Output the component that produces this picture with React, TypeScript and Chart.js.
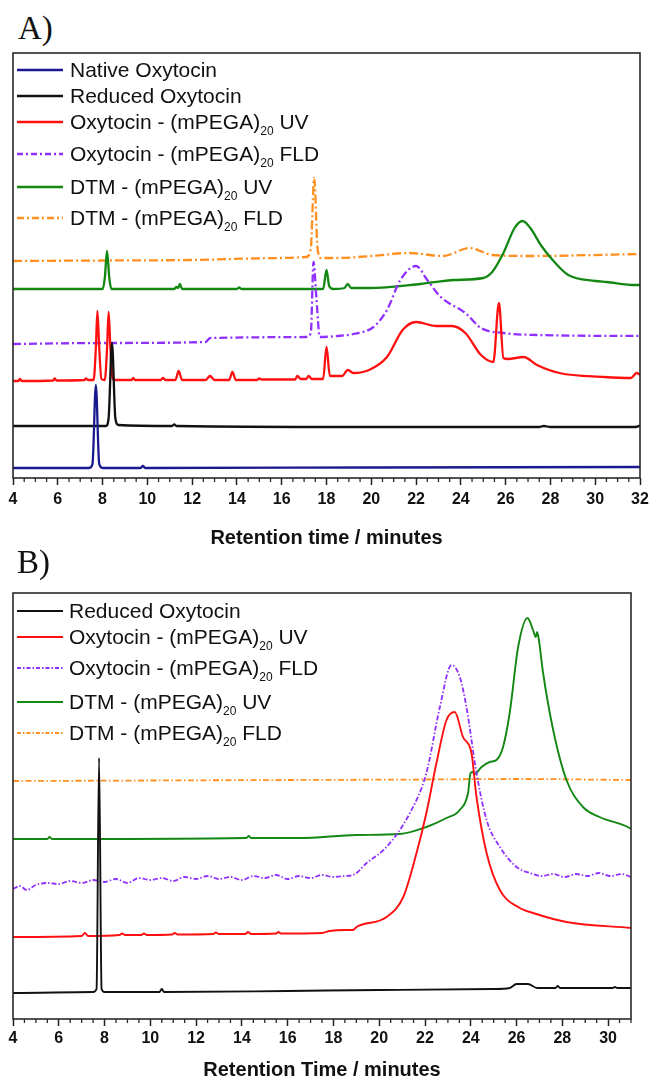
import React, { useEffect, useRef } from 'react';
import { Chart, registerables } from 'chart.js';

Chart.register(...registerables);

type Pt = [number, number];

// ---------- Panel A data: [retention time (min), signal (a.u.)] ----------
const aNative: Pt[] = [
  [4, 10], [7.4, 10], [7.55, 14], [7.7, 93], [7.85, 14], [8.0, 10], [9.7, 10], [9.8, 12], [9.9, 10],
  [20, 10.5], [32, 11],
];
const aReduced: Pt[] = [
  [4, 52], [8.15, 52], [8.27, 60], [8.42, 135], [8.57, 60], [8.7, 53], [11.1, 52], [11.2, 53.5], [11.3, 52],
  [20, 51], [27.5, 51], [27.7, 52], [28, 51], [31.8, 51], [32, 52.5],
];
const aOxyUV: Pt[] = [
  [4, 97], [4.25, 97], [4.3, 99], [4.4, 97], [5.8, 97.5], [5.85, 99.5], [5.95, 97.5], [7.2, 98], [7.25, 99.5], [7.35, 98],
  [7.6, 98], [7.7, 130], [7.77, 167], [7.85, 130], [7.95, 99], [8.1, 98], [8.2, 130], [8.27, 166], [8.35, 130], [8.45, 99],
  [8.6, 98], [9.3, 98], [9.37, 100], [9.45, 98], [10.6, 98], [10.7, 100], [10.8, 98],
  [11.25, 98], [11.4, 107], [11.55, 98], [12.6, 98], [12.8, 102], [13.0, 98], [13.65, 98], [13.8, 106], [13.95, 98],
  [14.9, 98], [15.0, 99.5], [15.1, 98.5], [16.6, 98.5], [16.7, 102], [16.85, 99], [17.1, 99], [17.2, 102], [17.35, 99],
  [17.85, 99], [18.0, 131], [18.15, 102], [18.7, 102], [18.95, 108], [19.2, 105], [19.9, 108], [20.7, 121], [21.4, 148],
  [22.0, 156], [22.9, 152], [23.6, 152], [24.2, 145], [24.9, 123], [25.45, 116], [25.7, 175], [25.9, 120], [26.1, 119],
  [26.8, 121], [27.4, 113], [28.4, 105], [30.4, 101], [31.6, 100], [31.85, 105], [32, 103],
];
const aOxyFLD: Pt[] = [
  [4, 134], [8, 135], [12.6, 136], [12.8, 140], [17.1, 141], [17.3, 145], [17.42, 216], [17.55, 180], [17.7, 141],
  [18.5, 142], [19.2, 144], [20.1, 151], [20.7, 168], [21.3, 198], [22.0, 212], [22.5, 198], [23.1, 181], [24.2, 165],
  [24.9, 150], [25.9, 145], [27.4, 143], [32, 142],
];
const aDtmUV: Pt[] = [
  [4, 189], [8.0, 189], [8.1, 200], [8.2, 227], [8.3, 200], [8.4, 189], [11.2, 189], [11.3, 191], [11.38, 190],
  [11.45, 194], [11.55, 189], [14.0, 189], [14.1, 190.5], [14.2, 189], [17.85, 189], [18.0, 208], [18.12, 192],
  [18.3, 189], [18.8, 190], [18.95, 194], [19.1, 190], [19.9, 190], [22.2, 194], [23.7, 198], [25.0, 200], [25.4, 206],
  [25.9, 225], [26.4, 250], [26.75, 257], [27.1, 250], [27.6, 232], [28.1, 218], [28.8, 203], [30.0, 197], [30.5, 196],
  [31.8, 193], [32, 193],
];
const aDtmFLD: Pt[] = [
  [4, 217], [8, 217.5], [12, 218], [16, 220], [17.1, 221], [17.3, 230], [17.45, 300], [17.6, 230], [17.75, 220],
  [18.5, 220], [20, 222], [21.7, 225], [23.2, 222], [24.4, 230], [25.4, 223], [27, 222], [32, 224],
];

// ---------- Panel B data ----------
const bReduced: Pt[] = [
  [4, 26], [7.5, 27], [7.65, 30], [7.76, 261], [7.87, 30], [8.0, 27], [10.4, 27], [10.5, 30], [10.6, 27], [16, 28],
  [20, 29], [25, 30], [25.7, 31], [26.0, 35], [26.5, 35], [26.9, 31], [27.7, 31], [27.8, 33], [27.9, 31], [30.2, 31],
  [30.3, 32], [30.4, 31], [31, 31],
];
const bOxyUV: Pt[] = [
  [4, 82], [7.0, 83], [7.14, 86], [7.28, 83], [8.65, 84], [8.77, 85.5], [8.9, 84], [9.6, 84], [9.72, 85.5], [9.85, 84],
  [10.95, 84.5], [11.07, 86], [11.2, 84.5], [12.75, 85], [12.86, 86.5], [13, 85], [14.15, 85], [14.27, 87], [14.4, 85],
  [15.5, 85.5], [15.6, 87], [15.7, 85.5], [17.5, 86], [17.84, 88], [18.5, 89], [18.86, 89], [19.01, 92], [20.32, 102],
  [21.05, 122], [21.63, 166], [22.06, 206], [22.5, 256], [22.94, 299], [23.3, 307], [23.66, 282], [24.03, 266],
  [24.25, 222], [24.69, 166], [25.27, 129], [26.14, 111], [26.72, 106], [28.18, 97], [31, 91],
];
const bOxyFLD: Pt[] = [
  [4, 130], [4.3, 133], [4.6, 129], [5.0, 134], [5.5, 136], [6.0, 135], [6.5, 138], [7.0, 136], [7.5, 139], [8.0, 137],
  [8.5, 140], [9.0, 136], [9.5, 141], [10.0, 139], [10.5, 141], [11.0, 138], [11.5, 142], [12.0, 140], [12.5, 143],
  [13.0, 140], [13.5, 142], [14.0, 139], [14.5, 143], [15.0, 141], [15.5, 144], [16.0, 140], [16.5, 143], [17.0, 141],
  [17.5, 144], [18.0, 142], [18.5, 143], [18.86, 144], [19.45, 156], [20.32, 172], [21.34, 206], [22.06, 246],
  [22.65, 312], [23.16, 354], [23.52, 342], [23.81, 312], [24.25, 246], [24.69, 199], [25.27, 172], [26.0, 152],
  [26.58, 146], [27.1, 143], [27.6, 145], [28.1, 142], [28.6, 145], [29.1, 143], [29.6, 146], [30.1, 143], [30.6, 145],
  [31, 142],
];
const bDtmUV: Pt[] = [
  [4, 180], [5.5, 180], [5.6, 182], [5.7, 180], [14.2, 181], [14.3, 183], [14.4, 181], [16.5, 181], [19.01, 184],
  [20.9, 185], [22.06, 192], [22.94, 201], [23.52, 209], [23.88, 226], [23.99, 246], [24.1, 247], [24.17, 245],
  [24.47, 252], [24.83, 257], [25.12, 259], [25.41, 272], [25.7, 306], [26.07, 372], [26.48, 401], [26.72, 389],
  [26.84, 382], [26.9, 387], [26.97, 380], [27.16, 346], [27.6, 289], [28.18, 239], [28.9, 212], [29.63, 202],
  [30.94, 191], [31, 190],
];
const bDtmFLD: Pt[] = [
  [4, 238], [10, 238.5], [16, 239], [22, 239.5], [26, 240], [31, 239],
];

// ---------- axes ----------
const aRange: Pt = [4, 32];
const bRange: Pt = [4, 31];
const majorStep = 2;
const minorStep = 0.5;
const aTitle = 'Retention time / minutes';
const bTitle = 'Retention Time / minutes';

// ---------- legend labels ----------
const lblNative = ['Native Oxytocin', '', ''];
const lblReduced = ['Reduced Oxytocin', '', ''];
const lblOxyUV = ['Oxytocin - (mPEGA)', '20', ' UV'];
const lblOxyFLD = ['Oxytocin - (mPEGA)', '20', ' FLD'];
const lblDtmUV = ['DTM - (mPEGA)', '20', ' UV'];
const lblDtmFLD = ['DTM - (mPEGA)', '20', ' FLD'];

const SANS = "'Liberation Sans', Arial, Helvetica, sans-serif";
const SERIF = "'Liberation Serif', 'Times New Roman', serif";

const C = {
  blue: '#1a1a8f',
  black: '#111111',
  red: '#ff1010',
  purple: '#9030ff',
  green: '#128712',
  orange: '#ff9020',
};

type Series = { label: string[]; data: Pt[]; color: string; width: number; dash?: number[]; lgDash?: number[] };

const seriesA: Series[] = [
  { label: lblNative, data: aNative, color: C.blue, width: 2.3 },
  { label: lblReduced, data: aReduced, color: C.black, width: 2.3 },
  { label: lblOxyUV, data: aOxyUV, color: C.red, width: 2.3 },
  { label: lblOxyFLD, data: aOxyFLD, color: C.purple, width: 2.3, dash: [8, 3, 2, 3], lgDash: [6, 3, 2, 3] },
  { label: lblDtmUV, data: aDtmUV, color: C.green, width: 2.3 },
  { label: lblDtmFLD, data: aDtmFLD, color: C.orange, width: 2.3, dash: [9, 3, 2, 3], lgDash: [7, 3, 2, 3] },
];
const seriesB: Series[] = [
  { label: lblReduced, data: bReduced, color: C.black, width: 1.9 },
  { label: lblOxyUV, data: bOxyUV, color: C.red, width: 1.9 },
  { label: lblOxyFLD, data: bOxyFLD, color: C.purple, width: 1.8, dash: [5, 2, 1.5, 2], lgDash: [4, 2, 1.5, 2] },
  { label: lblDtmUV, data: bDtmUV, color: C.green, width: 1.9 },
  { label: lblDtmFLD, data: bDtmFLD, color: C.orange, width: 1.8, dash: [6, 2.5, 1.5, 2.5], lgDash: [4, 2, 1.5, 2] },
];

const framePlugin = {
  id: 'frame',
  afterDatasetsDraw(chart: any) {
    const { ctx, chartArea: a, scales } = chart;
    const x = scales.x;
    ctx.save();
    ctx.strokeStyle = '#2a2a2a';
    ctx.lineWidth = 1.6;
    ctx.strokeRect(a.left, a.top, a.right - a.left, a.bottom - a.top);
    ctx.lineWidth = 1.3;
    for (let v = x.min + minorStep; v <= x.max + 1e-6; v += minorStep) {
      const r = Math.abs(v / majorStep - Math.round(v / majorStep));
      if (r < 1e-6) continue;
      const px = x.getPixelForValue(v);
      ctx.beginPath();
      ctx.moveTo(px, a.bottom);
      ctx.lineTo(px, a.bottom + 4);
      ctx.stroke();
    }
    ctx.restore();
  },
};

type PanelProps = {
  series: Series[];
  range: Pt;
  yMax: number;
  top: number;
  height: number;
  pad: { top: number; left: number; right: number; bottom: number };
  axisH: number;
  tickPad: number;
  title: string;
  titlePadBottom: number;
};

function ChartPanel(p: PanelProps) {
  const ref = useRef<HTMLCanvasElement>(null);
  useEffect(() => {
    const chart = new Chart(ref.current as HTMLCanvasElement, {
      type: 'line',
      data: {
        datasets: p.series.map((s) => ({
          label: s.label.join(''),
          data: s.data.map(([x, y]) => ({ x, y })),
          borderColor: s.color,
          borderWidth: s.width,
          borderDash: s.dash || [],
          pointRadius: 0,
          fill: false,
          tension: 0.4,
          cubicInterpolationMode: 'monotone',
        })),
      } as any,
      options: {
        responsive: false,
        animation: false,
        layout: { padding: p.pad },
        plugins: { legend: { display: false }, tooltip: { enabled: false } },
        scales: {
          x: {
            type: 'linear',
            min: p.range[0],
            max: p.range[1],
            afterFit: (scale: any) => {
              scale.height = p.axisH;
              scale.paddingLeft = 0;
              scale.paddingRight = 0;
            },
            ticks: {
              stepSize: majorStep,
              includeBounds: false,
              autoSkip: false,
              maxRotation: 0,
              padding: p.tickPad,
              color: '#111',
              font: { family: SANS, size: 16, weight: 'bold' },
            },
            grid: {
              display: true,
              drawOnChartArea: false,
              drawTicks: true,
              tickLength: 7,
              tickColor: '#222',
              tickWidth: 1.5,
            },
            border: { display: false },
            title: {
              display: true,
              text: p.title,
              color: '#111',
              font: { family: SANS, size: 20, weight: 'bold', lineHeight: 1 },
              padding: { top: 0, bottom: p.titlePadBottom },
            },
          },
          y: { display: false, min: 0, max: p.yMax },
        },
      } as any,
      plugins: [framePlugin],
    });
    return () => chart.destroy();
  }, []);
  return (
    <canvas
      ref={ref}
      width={650}
      height={p.height}
      style={{ position: 'absolute', left: 0, top: p.top, width: 650, height: p.height }}
    />
  );
}

function Legend({ series, rows, textLeft }: { series: Series[]; rows: number[]; textLeft: number }) {
  return (
    <>
      {series.map((s, i) => (
        <React.Fragment key={i}>
          <svg style={{ position: 'absolute', left: 16, top: rows[i] - 6 }} width={48} height={12}>
            <line
              x1={1}
              y1={6}
              x2={47}
              y2={6}
              stroke={s.color}
              strokeWidth={s.width}
              strokeDasharray={s.lgDash ? s.lgDash.join(' ') : undefined}
            />
          </svg>
          <div
            style={{
              position: 'absolute',
              left: textLeft,
              top: rows[i] - 12,
              lineHeight: '24px',
              fontSize: 21,
              fontFamily: SANS,
              color: '#111',
              whiteSpace: 'nowrap',
            }}
          >
            {s.label[0]}
            {s.label[1] ? (
              <span style={{ fontSize: 12, position: 'relative', top: 6 }}>{s.label[1]}</span>
            ) : null}
            {s.label[2]}
          </div>
        </React.Fragment>
      ))}
    </>
  );
}

const rowsA = [70, 96, 122, 154, 187, 218];
const rowsB = [611, 637, 668, 702, 733];

export default function App() {
  return (
    <div
      style={{
        position: 'absolute',
        left: 0,
        top: 0,
        width: 650,
        height: 1080,
        background: '#fff',
        overflow: 'hidden',
      }}
    >
      <div style={{ position: 'absolute', left: 18, top: 8, fontFamily: SERIF, fontSize: 33, lineHeight: '40px', color: '#111' }}>
        A)
      </div>
      <ChartPanel
        series={seriesA}
        range={aRange}
        yMax={425}
        top={40}
        height={510}
        pad={{ top: 13, left: 13, right: 10, bottom: 0 }}
        axisH={72}
        tickPad={5}
        title={aTitle}
        titlePadBottom={2}
      />
      <Legend series={seriesA} rows={rowsA} textLeft={70} />

      <div style={{ position: 'absolute', left: 17, top: 542, fontFamily: SERIF, fontSize: 33, lineHeight: '40px', color: '#111' }}>
        B)
      </div>
      <ChartPanel
        series={seriesB}
        range={bRange}
        yMax={426}
        top={575}
        height={505}
        pad={{ top: 18, left: 13, right: 19, bottom: 0 }}
        axisH={61}
        tickPad={3}
        title={bTitle}
        titlePadBottom={0}
      />
      <Legend series={seriesB} rows={rowsB} textLeft={69} />
    </div>
  );
}
